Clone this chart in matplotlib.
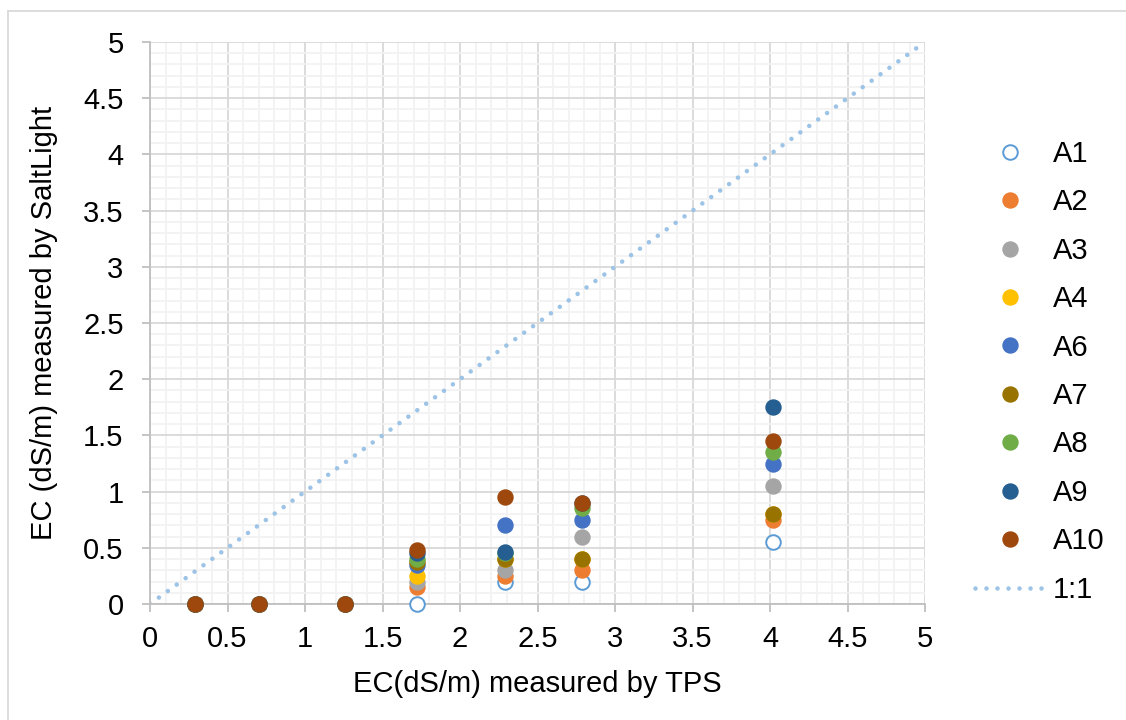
import matplotlib.pyplot as plt
from matplotlib.lines import Line2D
from matplotlib.ticker import MultipleLocator, FuncFormatter

plt.rcParams['font.family'] = ['Liberation Sans', 'DejaVu Sans']

# EC readings, TPS (x) vs SaltLight (y), one list per sensor
ec_tps = [0.29, 0.70, 1.26, 1.72, 2.29, 2.79, 4.02]

a1 = [0, 0, 0, 0.00, 0.20, 0.20, 0.55]
a2 = [0, 0, 0, 0.15, 0.25, 0.30, 0.75]
a3 = [0, 0, 0, 0.20, 0.30, 0.60, 1.05]
a4 = [0, 0, 0, 0.25, 0.40, 0.40, 0.80]
a6 = [0, 0, 0, 0.35, 0.70, 0.75, 1.25]
a7 = [0, 0, 0, 0.37, 0.40, 0.40, 0.80]
a8 = [0, 0, 0, 0.40, 0.45, 0.85, 1.35]
a9 = [0, 0, 0, 0.45, 0.46, 0.90, 1.75]
a10 = [0, 0, 0, 0.48, 0.95, 0.90, 1.45]

labels = ['A1', 'A2', 'A3', 'A4', 'A6', 'A7', 'A8', 'A9', 'A10']
series = [a1, a2, a3, a4, a6, a7, a8, a9, a10]
colors = ['#5B9BD5', '#ED7D31', '#A5A5A5', '#FFC000', '#4472C4',
          '#997300', '#70AD47', '#255E91', '#9E480E']

one_to_one = [0, 5]

fig = plt.figure(figsize=(11.26, 7.2), dpi=100)
ax = fig.add_axes([150 / 1126, 1 - 604 / 720, 775 / 1126, 562 / 720])

fs = 21
for lab, vals, col in zip(labels, series, colors):
    if lab == 'A1':
        ax.plot(ec_tps, vals, 'o', ms=10.5, mfc='white', mec=col, mew=1.4,
                label=lab, zorder=3, clip_on=False)
    else:
        ax.plot(ec_tps, vals, 'o', ms=10.8, color=col, mec=col,
                label=lab, zorder=3, clip_on=False)

ax.plot(one_to_one, one_to_one, color='#9DC3E6', lw=3.3,
        linestyle=(0, (0.001, 2.4)), dash_capstyle='round',
        label='1:1', zorder=2)

ax.set_xlim(0, 5)
ax.set_ylim(0, 5)
ax.xaxis.set_major_locator(MultipleLocator(0.5))
ax.yaxis.set_major_locator(MultipleLocator(0.5))
ax.xaxis.set_minor_locator(MultipleLocator(0.1))
ax.yaxis.set_minor_locator(MultipleLocator(0.1))
ax.xaxis.set_major_formatter(FuncFormatter(lambda v, p: f'{v:g}'))
ax.yaxis.set_major_formatter(FuncFormatter(lambda v, p: f'{v:g}'))

ax.grid(which='major', color='#D9D9D9', lw=1.3)
ax.grid(which='minor', color='#F2F2F2', lw=1.3)
ax.set_axisbelow(True)

for s in ['top', 'right']:
    ax.spines[s].set_visible(False)
for s in ['left', 'bottom']:
    ax.spines[s].set_color('#BFBFBF')
    ax.spines[s].set_linewidth(1.3)

ax.tick_params(which='major', length=6, width=1.3, color='#BFBFBF',
               labelsize=fs)
ax.tick_params(axis='y', pad=13)
ax.tick_params(axis='x', pad=9)
ax.tick_params(which='minor', length=0)

ax.set_xlabel('EC(dS/m) measured by TPS', fontsize=fs, labelpad=12)
ax.set_ylabel('EC (dS/m) measured by SaltLight', fontsize=fs, labelpad=18)

ax.legend(loc='upper left', bbox_to_anchor=(975 / 1126, 1 - 140 / 720),
          bbox_transform=fig.transFigure, frameon=False, fontsize=fs,
          handlelength=2.4, handletextpad=0.28, labelspacing=0.70,
          borderpad=0, borderaxespad=0, numpoints=1)

# thin outline along the top and left of the chart area
fig.add_artist(Line2D([8 / 1126, 1], [1 - 11 / 720] * 2, color='#D9D9D9',
                      lw=1.3, transform=fig.transFigure))
fig.add_artist(Line2D([8 / 1126] * 2, [0, 1 - 11 / 720], color='#D9D9D9',
                      lw=1.3, transform=fig.transFigure))

fig.savefig('out.png', dpi=100)
plt.close(fig)
